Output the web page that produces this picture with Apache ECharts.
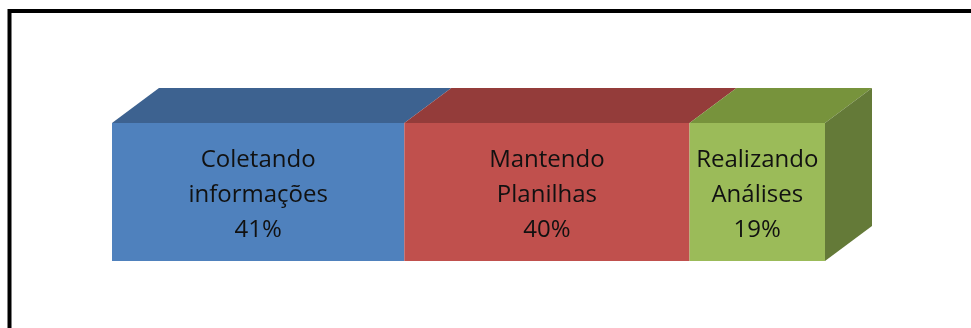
<!DOCTYPE html>
<html>
<head>
<meta charset="utf-8">
<script src="https://cdn.jsdelivr.net/npm/echarts@6/dist/echarts.min.js"></script>
<style>html,body{margin:0;padding:0;background:#fff;}#c{width:971px;height:328px;}</style>
</head>
<body>
<div id="c"></div>
<script>
var categories = ['Coletando\ninformações', 'Mantendo\nPlanilhas', 'Realizando\nAnálises'];
var values = [41, 40, 19];
var percentLabels = ['41%', '40%', '19%'];
var frontColors = ['#4F81BD', '#C0504D', '#9BBB59'];
var topColors = ['#3D6290', '#943C3A', '#77933C'];
var sideColor = '#647A38';

var DX = 47, DY = 35;
var data = [];
var acc = 0;
for (var i = 0; i < values.length; i++) {
  data.push([acc, acc + values[i], i]);
  acc += values[i];
}
var total = acc;

var chart = echarts.init(document.getElementById('c'), null, {renderer: 'canvas'});
chart.setOption({
  animation: false,
  backgroundColor: '#fff',
  grid: {left: 112, width: 713, top: 123, height: 138},
  xAxis: {type: 'value', min: 0, max: total, show: false},
  yAxis: {type: 'value', min: 0, max: 1, show: false},
  graphic: [{
    type: 'rect', shape: {x: 9.5, y: 11, width: 1100, height: 500},
    style: {fill: null, stroke: '#000', lineWidth: 4}, z: 100
  }],
  series: [{
    type: 'custom',
    data: data,
    renderItem: function (params, api) {
      var s = api.value(0), e = api.value(1), idx = api.value(2);
      var p0 = api.coord([s, 1]);
      var p1 = api.coord([e, 0]);
      var x0 = p0[0], y0 = p0[1], x1 = p1[0], y1 = p1[1];
      var children = [];
      children.push({
        type: 'polygon',
        shape: {points: [[x0, y0], [x1, y0], [x1 + DX, y0 - DY], [x0 + DX, y0 - DY]]},
        style: {fill: topColors[idx]}
      });
      if (idx === values.length - 1) {
        children.push({
          type: 'polygon',
          shape: {points: [[x1, y0], [x1 + DX, y0 - DY], [x1 + DX, y1 - DY], [x1, y1]]},
          style: {fill: sideColor}
        });
      }
      children.push({
        type: 'rect',
        shape: {x: x0, y: y0, width: x1 - x0, height: y1 - y0},
        style: {fill: frontColors[idx]}
      });
      children.push({
        type: 'text',
        x: (x0 + x1) / 2,
        y: (y0 + y1) / 2 + 3,
        style: {
          text: categories[idx] + '\n' + percentLabels[idx],
          align: 'center',
          verticalAlign: 'middle',
          font: '24px "Open Sans", sans-serif',
          lineHeight: 35,
          fill: '#111'
        }
      });
      return {type: 'group', children: children};
    }
  }]
});
</script>
</body>
</html>
